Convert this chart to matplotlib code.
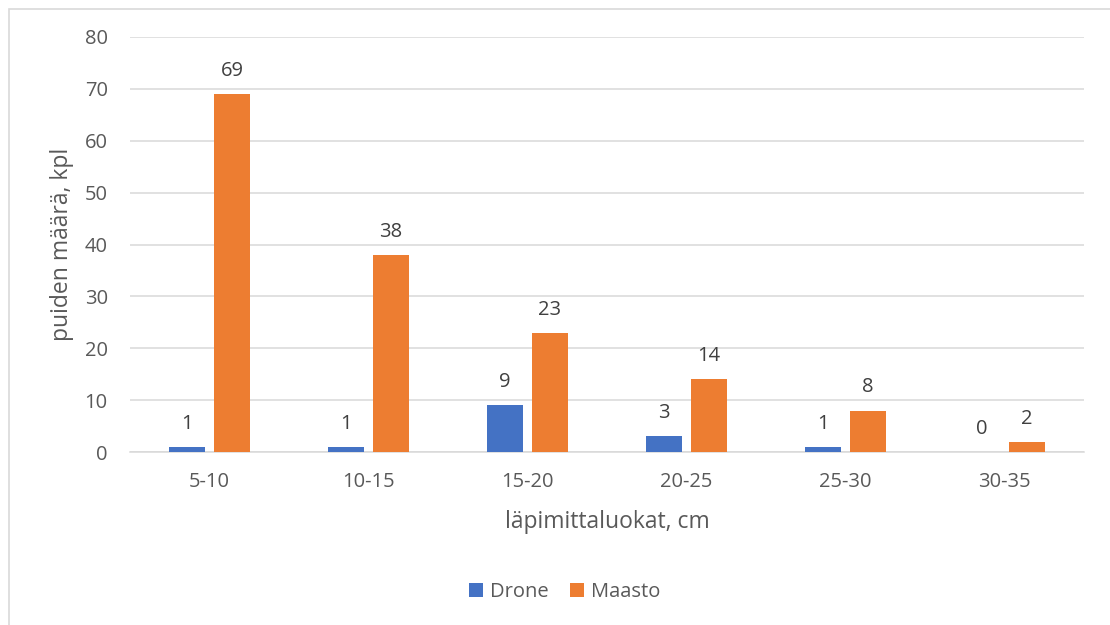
import matplotlib
matplotlib.use("Agg")
import matplotlib.pyplot as plt
from matplotlib.patches import Rectangle
import numpy as np

categories = ["5-10", "10-15", "15-20", "20-25", "25-30", "30-35"]
drone = [1, 1, 9, 3, 1, 0]
maasto = [69, 38, 23, 14, 8, 2]

plt.rcParams["font.family"] = ["Open Sans", "DejaVu Sans"]

fig = plt.figure(figsize=(11.1, 6.25), dpi=100)
fig.patches.append(Rectangle((9 / 1110, -0.05), 1.2, 1 - 9 / 625 + 0.05,
                             transform=fig.transFigure, fill=False,
                             edgecolor="#d9d9d9", linewidth=1.2, zorder=0))

ax = fig.add_axes([130 / 1110, 1 - 452 / 625, 954 / 1110, 415 / 625])

x = np.arange(len(categories))
w = 0.226
off = 0.1415
blue = "#4472c4"
orange = "#ed7d31"
b1 = ax.bar(x - off, drone, w, color=blue, label="Drone", zorder=3)
b2 = ax.bar(x + off, maasto, w, color=orange, label="Maasto", zorder=3)

for bars, vals in ((b1, drone), (b2, maasto)):
    for rect, v in zip(bars, vals):
        ax.annotate(str(v), (rect.get_x() + rect.get_width() / 2, v),
                    xytext=(0, 13), textcoords="offset points",
                    ha="center", va="baseline", fontsize=14.5, color="#404040")

ax.set_xlim(-0.5, len(categories) - 0.5)
ax.set_ylim(0, 80)
ax.set_yticks(range(0, 81, 10))
ax.set_xticks(x)
ax.set_xticklabels(categories)
ax.tick_params(axis="both", length=0, labelsize=14.5, labelcolor="#595959")
ax.tick_params(axis="y", pad=16)
ax.tick_params(axis="x", pad=14.5)
ax.grid(axis="y", color="#d9d9d9", linewidth=1.1, zorder=0)
for s in ("top", "right", "left"):
    ax.spines[s].set_visible(False)
ax.spines["bottom"].set_color("#d9d9d9")
ax.spines["bottom"].set_linewidth(1.1)

ax.set_xlabel("läpimittaluokat, cm", fontsize=16.5, color="#595959")
ax.set_ylabel("puiden määrä, kpl", fontsize=16.5, color="#595959")
ax.xaxis.set_label_coords(0.5, -(522 - 452) / 415, transform=ax.transAxes)
ax.xaxis.label.set_va("center")
ax.yaxis.set_label_coords(-(130 - 62) / 954, 0.5, transform=ax.transAxes)
ax.yaxis.label.set_va("center")

fig.legend(handles=[b1, b2], labels=["Drone", "Maasto"], loc="center",
           bbox_to_anchor=(565 / 1110, 1 - 592 / 625), ncol=2, frameon=False,
           fontsize=14.5, labelcolor="#595959", handlelength=0.7, handleheight=0.7,
           handletextpad=0.35, columnspacing=1.05)

fig.savefig("out.png", dpi=100, facecolor="white")
